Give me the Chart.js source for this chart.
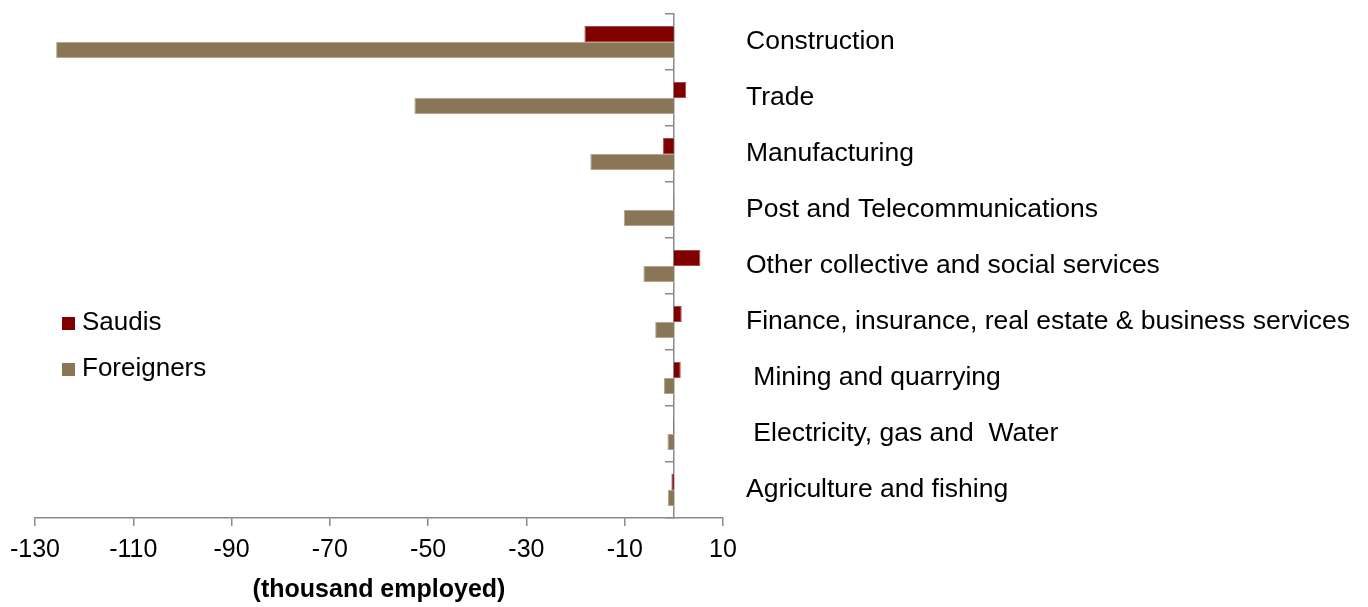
<!DOCTYPE html>
<html>
<head>
<meta charset="utf-8">
<script src="https://cdn.jsdelivr.net/npm/chart.js@4.4.1/dist/chart.umd.min.js"></script>
<style>
    html, body { margin: 0; padding: 0; background: #fff; }
    #wrap { position: relative; width: 1368px; height: 607px; }
    .leyenda { position: absolute; left: 62px; font: 26px "Liberation Sans", Arial, sans-serif; color: #000; }
    .leyenda span.sq { display: inline-block; width: 13px; height: 13px; margin-right: 7px; }
</style>
</head>
<body>
<div id="wrap">
    <canvas id="chartEmpleo" width="1368" height="607"></canvas>
    <div class="leyenda" style="top:306px;"><span class="sq" style="background:#800000"></span>Saudis</div>
    <div class="leyenda" style="top:352px;"><span class="sq" style="background:#8b7557"></span>Foreigners</div>
</div>
<script>
/* ============================================================
   EMPLOYMENT CHANGE BY SECTOR (thousand employed)
============================================================ */
const sectores = [
    "Construction",
    "Trade",
    "Manufacturing",
    "Post and Telecommunications",
    "Other collective and social services",
    "Finance, insurance, real estate & business services",
    " Mining and quarrying",
    " Electricity, gas and  Water",
    "Agriculture and fishing"
];
const saudis = [-18.2, 2.5, -2.2, 0.1, 5.4, 1.6, 1.4, -0.1, -0.5];
const foreigners = [-125.7, -52.8, -17.0, -10.2, -6.2, -3.8, -2.0, -1.3, -1.2];
const xTicks = [-130, -110, -90, -70, -50, -30, -10, 10];

const GRIS = "#8a8a8a";
const FUENTE = "'Liberation Sans', Arial, sans-serif";

const ctx = document.getElementById("chartEmpleo");
new Chart(ctx, {
    type: "bar",
    data: {
        labels: sectores,
        datasets: [
            { label: "Saudis", data: saudis, backgroundColor: "#800000", borderColor: "#a54b4b", borderWidth: 1, yAxisID: "y" },
            { label: "Foreigners", data: foreigners, backgroundColor: "#8b7557", borderColor: "#b3a48e", borderWidth: 1, yAxisID: "y" }
        ]
    },
    options: {
        indexAxis: "y",
        responsive: false,
        animation: false,
        layout: { padding: { top: 14, left: 35, right: 0, bottom: 0 } },
        plugins: { legend: { display: false }, tooltip: { enabled: false } },
        datasets: { bar: { categoryPercentage: 0.57, barPercentage: 1.0 } },
        scales: {
            x: {
                type: "linear",
                min: xTicks[0],
                max: xTicks[xTicks.length - 1],
                afterBuildTicks: s => { s.ticks = xTicks.map(v => ({ value: v })); },
                afterFit: s => { s.height = 89; },
                grid: { drawOnChartArea: false, color: GRIS, lineWidth: 1.5, tickLength: 8 },
                border: { color: GRIS, width: 1.5 },
                ticks: { color: "#000", padding: 9, font: { family: FUENTE, size: 25 } },
                title: {
                    display: true,
                    text: "(thousand employed)",
                    color: "#000",
                    font: { family: FUENTE, size: 25, weight: "bold" },
                    padding: { top: 0, bottom: 2 }
                }
            },
            y: {
                type: "category",
                position: { x: 0 },
                offset: true,
                grid: { offset: true, drawOnChartArea: false, color: GRIS, lineWidth: 1.5, tickLength: 8 },
                border: { color: GRIS, width: 1.5 },
                ticks: { display: false }
            },
            y2: {
                type: "category",
                axis: "y",
                position: "right",
                offset: true,
                afterFit: s => { s.width = 645; s.paddingTop = 0; s.paddingBottom = 0; },
                grid: { display: false },
                border: { display: false },
                ticks: { color: "#000", padding: 15, crossAlign: "near", font: { family: FUENTE, size: 26.5 } }
            }
        }
    }
});
</script>
</body>
</html>
